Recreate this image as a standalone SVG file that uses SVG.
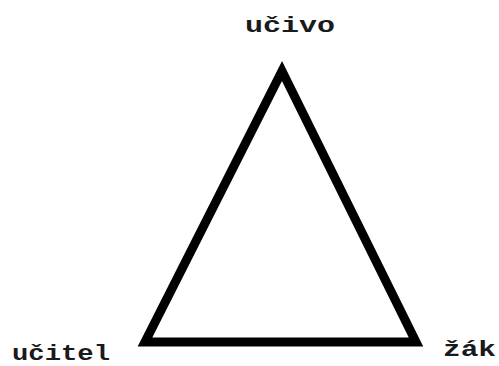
<svg xmlns="http://www.w3.org/2000/svg" width="499" height="366" viewBox="0 0 499 366">
<style>
.lbl{font-family:"Liberation Mono","DejaVu Sans Mono",monospace;font-weight:bold;font-size:22px;fill:#1a1a1a}
.edge{fill:none;stroke:#000;stroke-width:9;stroke-linejoin:miter;stroke-miterlimit:10}
</style>
<rect width="499" height="366" fill="#fff"/>
<g id="connectors">
<polygon class="edge" points="282,71 145,342 416,342"/>
</g>
<g id="ucivo"><text class="lbl" x="245" y="32" textLength="90" lengthAdjust="spacingAndGlyphs">učivo</text></g>
<g id="ucitel"><text class="lbl" x="12" y="360" textLength="98" lengthAdjust="spacingAndGlyphs">učitel</text></g>
<g id="zak"><text class="lbl" x="443" y="356" textLength="53" lengthAdjust="spacingAndGlyphs">žák</text></g>
</svg>
